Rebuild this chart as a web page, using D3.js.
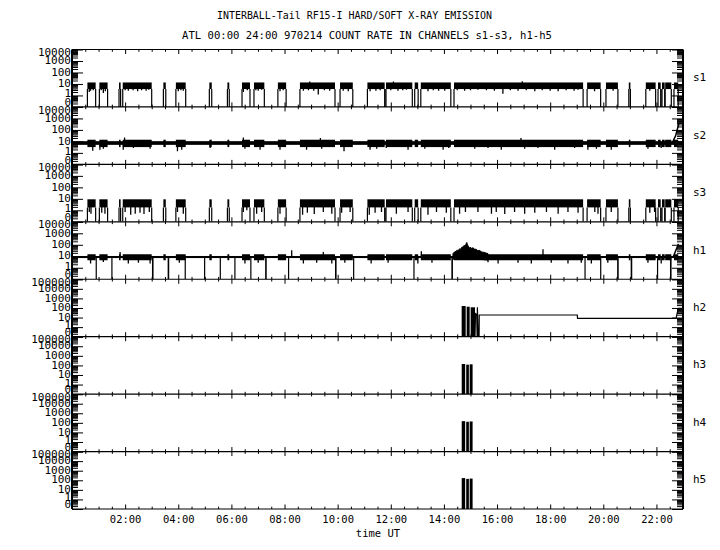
<!DOCTYPE html>
<html><head><meta charset="utf-8">
<script src="https://cdn.jsdelivr.net/npm/d3@7"></script>
<style>
body{margin:0;background:#fff}
text{font-family:"DejaVu Sans Mono","Liberation Mono",monospace;fill:#000}
</style>
</head><body>
<svg id="chart" width="720" height="550"></svg>
<script>
// ---------------- DATA ----------------
const titleLine1 = "INTERBALL-Tail RF15-I HARD/SOFT X-RAY EMISSION";
const titleLine2 = "ATL 00:00 24:00 970214  COUNT RATE IN CHANNELS s1-s3, h1-h5";
const xAxisTitle = "time UT";
const channels = ["s1","s2","s3","h1","h2","h3","h4","h5"];
const softTickLabels = ["0","1","10","100","1000","10000"];
const hardTickLabels = ["0","1","10","100","1000","10000","100000"];
const timeTickHours = [2,4,6,8,10,12,14,16,18,20,22];
const timeTickLabels = ["02:00","04:00","06:00","08:00","10:00","12:00","14:00","16:00","18:00","20:00","22:00"];
const timeDomain = [0, 23];

// intervals (hours UT) when the soft channels s1 / s3 are "on"
const softOnIntervals = [[0.58,0.89],[1.03,1.34],[1.77,1.83],[1.91,3.00],[3.44,3.53],[3.91,4.28],[5.17,5.26],[5.85,5.92],[6.40,6.70],[6.85,7.24],[7.75,8.06],[8.58,9.90],[10.09,10.57],[11.12,11.77],[11.82,12.81],[12.90,13.03],[13.13,14.26],[14.38,19.24],[19.39,19.90],[20.10,20.55],[20.96,21.02],[21.60,21.97],[22.06,22.16],[22.21,22.31],[22.33,22.56],[22.66,22.82]];

// s1: [low, high] count-rate band while on, and excursions [hour, value]
const s1Band = [3.6, 13.5];
const s1Spikes = [[0.65,2.0],[0.70,2.6],[0.80,2.9],[1.10,2.9],[1.18,1.6],[1.255,2.3],[2.00,2.9],[2.12,2.6],[2.30,2.9],[2.47,2.3],[2.62,2.9],[2.79,2.6],[2.89,3.2],[4.00,2.3],[4.10,2.9],[4.19,2.6],[6.45,2.0],[6.60,2.9],[6.92,2.9],[7.01,2.6],[7.14,3.2],[7.83,2.3],[7.95,2.9],[8.71,2.6],[8.90,2.9],[9.10,2.6],[9.27,1.2],[9.50,2.9],[9.70,2.6],[10.21,2.6],[10.40,2.3],[11.22,2.3],[11.44,2.6],[11.60,2.9],[12.00,2.9],[12.27,2.6],[12.45,2.9],[12.59,3.2],[13.40,2.3],[13.60,2.9],[13.80,2.6],[14.03,2.6],[14.50,2.9],[14.78,2.6],[15.00,2.9],[15.28,3.2],[15.60,2.9],[15.90,2.6],[16.22,1.4],[16.50,2.9],[16.79,2.6],[17.10,2.9],[17.42,2.3],[17.70,2.9],[18.00,2.6],[18.30,2.3],[18.60,2.9],[18.90,2.6],[19.05,3.2],[19.67,2.3],[20.37,2.6],[21.75,2.6],[8.95,16],[12.10,16],[16.95,17]];

// s2: quiet band, active band (during soft-on intervals), excursions, end rise
const s2QuietBand = [5, 10.5];
const s2ActiveBand = [3.2, 14];
const s2Spikes = [[0.78,1.56],[1.05,1.9],[1.18,2.3],[1.93,1.9],[1.98,22],[2.31,2.7],[2.94,2.3],[3.97,1.37],[4.13,1.9],[5.20,2.7],[6.45,22],[6.51,2.3],[7.08,1.9],[7.83,1.9],[8.83,1.9],[9.35,20],[9.40,2.3],[10.24,1.37],[11.22,1.9],[11.47,2.3],[11.83,2.7],[12.65,1.9],[13.28,2.3],[13.97,1.9],[14.18,2.7],[15.16,2.3],[15.66,2.7],[16.16,1.9],[16.90,20],[17.04,2.3],[17.54,2.7],[18.17,1.9],[18.92,2.7],[19.42,1.9],[19.74,2.3],[20.30,1.9],[21.68,2.3],[22.18,2.7]];
const s2Tail = [[22.60,8],[22.72,30],[22.85,400]];

// s3: band while on and downward excursions
const s3Band = [1.8, 9.1];
const s3Spikes = [[0.65,0.72],[0.715,0.51],[1.12,0.63],[1.24,0.51],[2.00,0.72],[2.21,0.42],[2.38,0.51],[2.56,0.63],[2.71,0.48],[2.91,0.72],[3.97,0.72],[4.19,0.51],[6.45,0.72],[6.58,1.0],[6.95,0.51],[7.14,0.72],[7.83,0.51],[8.68,0.42],[8.86,0.63],[9.12,0.48],[9.46,0.72],[9.78,0.51],[10.15,0.63],[10.47,0.72],[11.19,0.42],[11.41,0.63],[11.65,0.72],[12.21,0.51],[12.65,0.72],[13.40,0.42],[13.72,0.72],[14.09,0.63],[14.59,0.51],[14.81,0.72],[15.28,0.72],[15.79,0.51],[15.97,0.72],[16.29,0.48],[16.66,0.72],[17.04,0.51],[17.42,0.63],[17.86,0.72],[18.30,0.51],[18.67,0.72],[19.05,0.63],[19.68,0.72],[19.80,0.51],[20.30,0.72],[21.75,0.63],[21.93,0.72]];

// h1: bands, excursions, zero-count spans [start, end], hump [hour, low, high], end rise
const h1QuietBand = [7, 10.6];
const h1ActiveBand = [4.5, 15];
const h1Spikes = [[0.70,2.3],[1.18,3.2],[1.81,23.6],[2.12,2.3],[2.50,2.8],[2.94,2.3],[4.04,2.8],[6.51,2.3],[7.01,2.8],[8.27,33],[8.71,2.3],[9.21,2.8],[9.46,23],[9.78,2.3],[10.27,2.8],[11.26,2.3],[11.90,2.8],[13.02,2.3],[13.15,27],[13.55,2.8],[15.66,3.0],[16.04,2.3],[16.79,2.8],[17.29,2.3],[17.73,40],[18.04,2.8],[18.67,2.3],[19.17,2.8],[19.55,2.3],[20.17,2.8],[21.68,2.8],[22.18,2.3]];
const h1ZeroSpans = [[0.89,0.91],[1.48,1.50],[3.01,3.07],[3.60,3.66],[4.24,4.26],[4.97,4.99],[5.56,5.58],[6.11,6.13],[6.71,6.73],[7.27,7.33],[8.13,8.15],[9.90,9.96],[10.58,10.60],[12.85,12.87],[14.28,14.34],[19.29,19.31],[19.88,19.90],[20.52,20.58],[21.03,21.09],[22.02,22.04],[22.51,22.57]];
const h1Hump = [[14.34,5.4,17],[14.40,6,24],[14.47,7.5,27],[14.50,8,36],[14.53,8.7,30],[14.59,10,45],[14.63,11,40],[14.66,12,58],[14.72,13.8,65],[14.76,13,90],[14.80,13,75],[14.84,12.5,130],[14.86,12.5,160],[14.89,12,95],[14.93,11,70],[14.97,11,50],[15.00,10,62],[15.03,10,48],[15.095,8.7,55],[15.15,8,42],[15.22,7,40],[15.28,6.6,30],[15.35,6,33],[15.41,5.5,24],[15.50,5,22],[15.66,4.7,17]];
const h1Tail = [[22.64,10],[22.83,120]];

// h2: dense bursts [start, end, peak] and the remaining trace [hour, value]
const h2Bursts = [[14.668,14.82,160],[14.857,14.97,135],[15.007,15.17,117]];
const h2Trace = [[0,0],[15.17,0],[15.19,25],[15.235,20],[15.25,0],[15.26,117],[15.29,0],[15.325,0],[15.33,18.5],[19.02,18.5],[19.03,8.3],[22.74,8.3],[22.82,92],[23,92]];
// h3-h5: bursts [start, end, peak]
const h3Bursts = [[14.67,14.80,140],[14.84,14.94,120],[14.97,15.08,130]];
const h4Bursts = [[14.67,14.80,150],[14.84,14.94,130],[14.97,15.08,140]];
const h5Bursts = [[14.67,14.80,170],[14.84,14.94,140],[14.97,15.08,150]];

// ---------------- LAYOUT ----------------
const svg = d3.select("#chart");
const left = 72, right = 683, top0 = 49.5, bottom0 = 509;
const nP = channels.length, ph = (bottom0 - top0) / nP;
const x = d3.scaleLinear().domain(timeDomain).range([left, right]);
const toVal = s => s === "0" ? 0.1 : +s;
const panelLabelSets = [softTickLabels, softTickLabels, softTickLabels, softTickLabels,
                        hardTickLabels, hardTickLabels, hardTickLabels, hardTickLabels];

const defs = svg.append("defs");
const marksLayer = svg.append("g");
const axisLayer = svg.append("g");

const panels = channels.map((name, i) => {
  const t = top0 + i * ph, b = t + ph;
  const labels = panelLabelSets[i];
  const maxV = toVal(labels[labels.length - 1]);
  const y = d3.scaleLog().domain([0.1, maxV]).range([b, t]).clamp(true);
  defs.append("clipPath").attr("id", "clip" + i).append("rect")
    .attr("x", left).attr("y", t).attr("width", right - left).attr("height", ph);
  const marks = marksLayer.append("g").attr("clip-path", `url(#clip${i})`);
  return {name, i, t, b, labels, maxV, y, marks, yv: v => y(Math.max(v, 0.1))};
});
const P = Object.fromEntries(panels.map(p => [p.name, p]));

// ---------------- MARK HELPERS ----------------
function band(p, intervals, lo, hi) {
  p.marks.append("g").selectAll("rect").data(intervals).join("rect")
    .attr("x", d => x(d[0]))
    .attr("width", d => Math.max(1, x(d[1]) - x(d[0])))
    .attr("y", p.yv(hi)).attr("height", p.yv(lo) - p.yv(hi))
    .attr("fill", "#000");
}
function edges(p, intervals, lo) {
  const path = d3.path();
  intervals.forEach(([a, b]) => [a, b].forEach(t => {
    path.moveTo(x(t), p.yv(0)); path.lineTo(x(t), p.yv(lo));
  }));
  p.marks.append("path").attr("d", path.toString())
    .attr("stroke", "#000").attr("stroke-width", 1.2).attr("fill", "none");
}
function spikes(p, list, bandArr) {
  const mid = Math.sqrt(bandArr[0] * bandArr[1]);
  p.marks.append("g").selectAll("line").data(list).join("line")
    .attr("x1", d => x(d[0])).attr("x2", d => x(d[0]))
    .attr("y1", p.yv(mid)).attr("y2", d => p.yv(d[1]))
    .attr("stroke", "#000").attr("stroke-width", 1.3);
}
function bursts(p, list) {
  p.marks.append("g").selectAll("rect").data(list).join("rect")
    .attr("x", d => x(d[0])).attr("width", d => x(d[1]) - x(d[0]))
    .attr("y", d => p.yv(d[2])).attr("height", d => p.yv(0) - p.yv(d[2]))
    .attr("fill", "#000");
}
function trace(p, pts, w) {
  const line = d3.line().x(d => x(d[0])).y(d => p.yv(d[1]));
  p.marks.append("path").attr("d", line(pts))
    .attr("fill", "none").attr("stroke", "#000").attr("stroke-width", w || 1.2);
}

// ---------------- MARKS ----------------
band(P.s1, softOnIntervals, s1Band[0], s1Band[1]);
edges(P.s1, softOnIntervals, s1Band[0]);
spikes(P.s1, s1Spikes, s1Band);

band(P.s2, [timeDomain], s2QuietBand[0], s2QuietBand[1]);
band(P.s2, softOnIntervals, s2ActiveBand[0], s2ActiveBand[1]);
spikes(P.s2, s2Spikes, s2QuietBand);
trace(P.s2, s2Tail, 1.5);

band(P.s3, softOnIntervals, s3Band[0], s3Band[1]);
edges(P.s3, softOnIntervals, s3Band[0]);
spikes(P.s3, s3Spikes, s3Band);

band(P.h1, [timeDomain], h1QuietBand[0], h1QuietBand[1]);
band(P.h1, softOnIntervals, h1ActiveBand[0], h1ActiveBand[1]);
spikes(P.h1, h1Spikes, h1QuietBand);
P.h1.marks.append("path")
  .attr("d", d3.area().x(d => x(d[0])).y0(d => P.h1.yv(d[1])).y1(d => P.h1.yv(d[2]))(h1Hump))
  .attr("fill", "#000").attr("stroke", "#000").attr("stroke-width", 1);
P.h1.marks.append("g").selectAll("rect").data(h1ZeroSpans).join("rect")
  .attr("x", d => x(d[0])).attr("width", d => Math.max(1.2, x(d[1]) - x(d[0])))
  .attr("y", P.h1.yv(h1QuietBand[0])).attr("height", P.h1.yv(0) - P.h1.yv(h1QuietBand[0]))
  .attr("fill", "#000");
trace(P.h1, h1Tail, 1.5);

bursts(P.h2, h2Bursts);
trace(P.h2, h2Trace, 1.2);
bursts(P.h3, h3Bursts);
bursts(P.h4, h4Bursts);
bursts(P.h5, h5Bursts);

// ---------------- AXES ----------------
const majorH = d3.range(2, 23, 2);
const minorH = d3.range(0.5, 23, 0.5).filter(h => h % 2 !== 0);
const stripDomain = g => g.select(".domain").remove();
const boundaries = d3.range(nP + 1).map(i => top0 + i * ph);

boundaries.forEach((yb, i) => {
  if (i < nP) {
    axisLayer.append("g").attr("transform", `translate(0,${yb})`)
      .call(d3.axisBottom(x).tickValues(majorH).tickSize(4.5).tickFormat("")).call(stripDomain);
    axisLayer.append("g").attr("transform", `translate(0,${yb})`)
      .call(d3.axisBottom(x).tickValues(minorH).tickSize(2.3).tickFormat("")).call(stripDomain);
  }
  if (i > 0) {
    axisLayer.append("g").attr("transform", `translate(0,${yb})`)
      .call(d3.axisTop(x).tickValues(majorH).tickSize(4.5).tickFormat("")).call(stripDomain);
    axisLayer.append("g").attr("transform", `translate(0,${yb})`)
      .call(d3.axisTop(x).tickValues(minorH).tickSize(2.3).tickFormat("")).call(stripDomain);
  }
  axisLayer.append("line").attr("x1", left).attr("x2", right).attr("y1", yb).attr("y2", yb)
    .attr("stroke", "#000").attr("stroke-width", 1.2);
});
[left, right].forEach(xx => axisLayer.append("line")
  .attr("x1", xx).attr("x2", xx).attr("y1", top0).attr("y2", bottom0)
  .attr("stroke", "#000").attr("stroke-width", 2));

panels.forEach(p => {
  const maxE = Math.round(Math.log10(p.maxV));
  const majors = d3.range(-1, maxE + 1).map(e => Math.pow(10, e));
  const minors = [];
  d3.range(-1, maxE).forEach(e => d3.range(2, 10).forEach(k => minors.push(k * Math.pow(10, e))));
  axisLayer.append("g").attr("transform", `translate(${left},0)`)
    .call(d3.axisRight(p.y).tickValues(majors).tickSize(11).tickFormat("")).call(stripDomain);
  axisLayer.append("g").attr("transform", `translate(${left},0)`)
    .call(d3.axisRight(p.y).tickValues(minors).tickSize(6).tickFormat("")).call(stripDomain);
  axisLayer.append("g").attr("transform", `translate(${right},0)`)
    .call(d3.axisLeft(p.y).tickValues(majors).tickSize(11).tickFormat("")).call(stripDomain);
  axisLayer.append("g").attr("transform", `translate(${right},0)`)
    .call(d3.axisLeft(p.y).tickValues(minors).tickSize(6).tickFormat("")).call(stripDomain);

  p.labels.forEach((lab, j) => {
    const v = toVal(lab);
    let c = p.y(v) - 0.8;
    if (j === p.labels.length - 1) c = p.t + 2.6;
    else if (lab === "0") c = p.b - 4.8;
    else if (lab === "1") c = p.y(v) - 2;
    axisLayer.append("text").attr("x", 71).attr("y", c + 4)
      .attr("text-anchor", "end").attr("font-size", 11).text(lab);
  });
  axisLayer.append("text").attr("x", 693).attr("y", (p.t + p.b) / 2 + 3)
    .attr("font-size", 11).text(p.name);
});

axisLayer.append("g").attr("transform", `translate(0,${bottom0})`)
  .call(d3.axisBottom(x).tickValues(timeTickHours).tickSize(0).tickPadding(7)
    .tickFormat((d, i) => timeTickLabels[i]))
  .call(stripDomain)
  .call(g => g.selectAll("text").attr("font-size", 10.5)
    .attr("font-family", '"DejaVu Sans Mono","Liberation Mono",monospace'));

axisLayer.append("text").attr("x", 378).attr("y", 537).attr("text-anchor", "middle")
  .attr("font-size", 10.5).text(xAxisTitle);

svg.append("text").attr("x", 217).attr("y", 18.5).attr("font-size", 10)
  .attr("textLength", 275).attr("lengthAdjust", "spacingAndGlyphs").text(titleLine1);
svg.append("text").attr("x", 182).attr("y", 38.5).attr("font-size", 10)
  .attr("textLength", 370).attr("lengthAdjust", "spacingAndGlyphs").text(titleLine2);
</script>
</body></html>
